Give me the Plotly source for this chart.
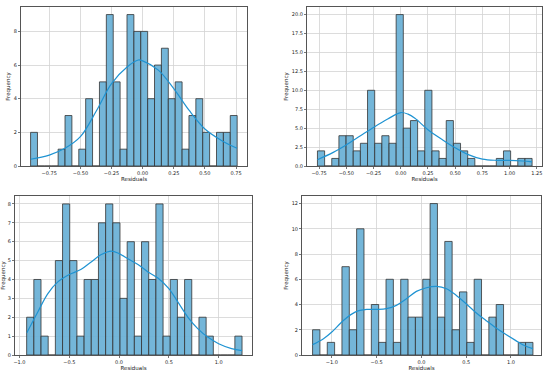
import plotly.graph_objects as go

# ---------------- data ----------------
# Panel 1 (top-left)
p1_bin_start = -0.900
p1_bin_width = 0.0553
p1_counts = [2, 0, 0, 0, 1, 3, 0, 1, 4, 0, 5, 9, 5, 1, 9, 8, 8, 4, 6, 7, 4, 5, 1, 3, 4, 2, 0, 2, 2, 3]
p1_kde_x = [-0.90, -0.75, -0.624, -0.50, -0.37, -0.25, -0.123, -0.035, 0.0, 0.126, 0.25, 0.374, 0.50, 0.626, 0.758]
p1_kde_y = [0.40, 0.65, 1.05, 1.74, 3.3, 4.9, 5.9, 6.3, 6.25, 5.7, 4.6, 3.3, 2.2, 1.55, 1.05]

# Panel 2 (top-right)
p2_bin_start = -0.765
p2_bin_width = 0.0657
p2_counts = [2, 0, 1, 4, 4, 2, 3, 10, 3, 4, 3, 20, 5, 6, 2, 10, 2, 1, 6, 3, 2, 1, 0, 0, 0, 1, 2, 0, 1, 1]
p2_kde_x = [-0.765, -0.62, -0.50, -0.37, -0.25, -0.12, 0.0, 0.067, 0.13, 0.25, 0.38, 0.50, 0.62, 0.75, 0.88, 1.00, 1.12, 1.205]
p2_kde_y = [0.83, 1.8, 2.8, 4.0, 5.1, 6.2, 7.06, 6.85, 6.3, 4.8, 3.5, 2.4, 1.5, 0.9, 0.75, 0.75, 0.66, 0.55]

# Panel 3 (bottom-left)
p3_bin_start = -0.928
p3_bin_width = 0.0721
p3_counts = [2, 4, 1, 0, 5, 8, 5, 1, 4, 4, 7, 8, 7, 3, 6, 1, 6, 4, 8, 1, 4, 2, 4, 0, 2, 1, 0, 0, 0, 1]
p3_kde_x = [-0.926, -0.816, -0.715, -0.615, -0.50, -0.38, -0.28, -0.178, -0.077, 0.0, 0.089, 0.19, 0.29, 0.39, 0.50, 0.59, 0.69, 0.79, 0.89, 1.0, 1.13, 1.235]
p3_kde_y = [1.18, 2.28, 3.25, 3.87, 4.26, 4.54, 4.93, 5.32, 5.5, 5.37, 5.1, 4.79, 4.4, 4.08, 3.52, 2.81, 2.01, 1.4, 0.95, 0.6, 0.34, 0.23]

# Panel 4 (bottom-right)
p4_bin_start = -1.215
p4_bin_width = 0.082
p4_counts = [2, 0, 1, 0, 7, 2, 10, 0, 4, 1, 6, 1, 6, 3, 3, 6, 12, 3, 9, 2, 5, 1, 6, 0, 3, 4, 0, 0, 1, 1]
p4_kde_x = [-1.215, -1.093, -1.0, -0.87, -0.74, -0.61, -0.50, -0.39, -0.28, -0.167, -0.056, 0.056, 0.167, 0.28, 0.39, 0.50, 0.61, 0.72, 0.83, 0.94, 1.05, 1.16, 1.245]
p4_kde_y = [0.82, 1.29, 1.82, 2.74, 3.40, 3.61, 3.61, 3.67, 3.93, 4.46, 5.04, 5.33, 5.44, 5.25, 4.72, 4.06, 3.35, 2.74, 2.16, 1.64, 1.16, 0.71, 0.5]

x_title = "Residuals"
y_title = "Frequency"

# ---------------- styling ----------------
BAR_FILL = "rgba(104,176,214,0.92)"
BAR_EDGE = "#333333"
KDE_COLOR = "#1f93d2"
GRID = "#d3d3d3"
SPINE = "#555555"
FONT = "DejaVu Sans"

panels = [
    dict(start=p1_bin_start, w=p1_bin_width, counts=p1_counts, kx=p1_kde_x, ky=p1_kde_y,
         xdom=[21/550, 247/550], ydom=[1-166/375, 1-7/375],
         xr=[-0.977, 0.838], yr=[0, 9.45],
         xt=[-0.75, -0.5, -0.25, 0, 0.25, 0.5, 0.75], xfmt=".2f",
         yt=[0, 2, 4, 6, 8], yfmt="d"),
    dict(start=p2_bin_start, w=p2_bin_width, counts=p2_counts, kx=p2_kde_x, ky=p2_kde_y,
         xdom=[307/550, 542/550], ydom=[1-166/375, 1-7/375],
         xr=[-0.861, 1.297], yr=[0, 21.0],
         xt=[-0.75, -0.5, -0.25, 0, 0.25, 0.5, 0.75, 1.0, 1.25], xfmt=".2f",
         yt=[0, 2.5, 5, 7.5, 10, 12.5, 15, 17.5, 20], yfmt=".1f"),
    dict(start=p3_bin_start, w=p3_bin_width, counts=p3_counts, kx=p3_kde_x, ky=p3_kde_y,
         xdom=[15/550, 252/550], ydom=[1-355/375, 1-196/375],
         xr=[-1.045, 1.335], yr=[0, 8.42],
         xt=[-1.0, -0.5, 0, 0.5, 1.0], xfmt=".1f",
         yt=[0, 1, 2, 3, 4, 5, 6, 7, 8], yfmt="d"),
    dict(start=p4_bin_start, w=p4_bin_width, counts=p4_counts, kx=p4_kde_x, ky=p4_kde_y,
         xdom=[302/550, 541/550], ydom=[1-355/375, 1-196/375],
         xr=[-1.333, 1.335], yr=[0, 12.6],
         xt=[-1.0, -0.5, 0, 0.5, 1.0], xfmt=".1f",
         yt=[0, 2, 4, 6, 8, 10, 12], yfmt="d"),
]

fig = go.Figure()
layout = dict(
    width=550, height=375,
    margin=dict(l=0, r=0, t=0, b=0, pad=0, autoexpand=False),
    paper_bgcolor="white", plot_bgcolor="white",
    showlegend=False,
    font=dict(family=FONT, size=5, color="#222"),
)

for i, p in enumerate(panels, start=1):
    xa = "x" if i == 1 else f"x{i}"
    ya = "y" if i == 1 else f"y{i}"
    centers = [p["start"] + p["w"] * (k + 0.5) for k in range(len(p["counts"]))]
    fig.add_trace(go.Bar(
        x=centers, y=p["counts"], width=[p["w"]] * len(centers),
        marker=dict(color=BAR_FILL, line=dict(color=BAR_EDGE, width=0.8)),
        xaxis=xa, yaxis=ya, hoverinfo="skip",
    ))
    fig.add_trace(go.Scatter(
        x=p["kx"], y=p["ky"], mode="lines",
        line=dict(color=KDE_COLOR, width=1.2, shape="spline", smoothing=1.0),
        xaxis=xa, yaxis=ya, hoverinfo="skip",
    ))
    xkey = "xaxis" if i == 1 else f"xaxis{i}"
    ykey = "yaxis" if i == 1 else f"yaxis{i}"
    layout[xkey] = dict(
        domain=p["xdom"], anchor=ya, range=p["xr"], automargin=False,
        tickmode="array", tickvals=p["xt"], tickformat=p["xfmt"],
        showgrid=True, gridcolor=GRID, gridwidth=0.8,
        showline=True, linecolor=SPINE, linewidth=1, mirror=True,
        ticks="outside", ticklen=2, tickwidth=0.8, tickcolor=SPINE,
        tickfont=dict(size=5, family=FONT, color="#222"),
        title=dict(text=x_title, font=dict(size=5.5, family=FONT, color="#222"), standoff=2),
        zeroline=False,
    )
    layout[ykey] = dict(
        domain=p["ydom"], anchor=xa, range=p["yr"], automargin=False,
        tickmode="array", tickvals=p["yt"], tickformat=p["yfmt"],
        showgrid=True, gridcolor=GRID, gridwidth=0.8,
        showline=True, linecolor=SPINE, linewidth=1, mirror=True,
        ticks="outside", ticklen=2, tickwidth=0.8, tickcolor=SPINE,
        tickfont=dict(size=5, family=FONT, color="#222"),
        title=dict(text=y_title, font=dict(size=5.5, family=FONT, color="#222"), standoff=2),
        zeroline=False,
    )

layout["bargap"] = 0
fig.update_layout(**layout)
fig.write_html(
    "out.html",
    config={"displayModeBar": False, "staticPlot": True},
    post_script="document.body.style.margin='0';document.body.style.padding='0';document.body.style.overflow='hidden';",
)
